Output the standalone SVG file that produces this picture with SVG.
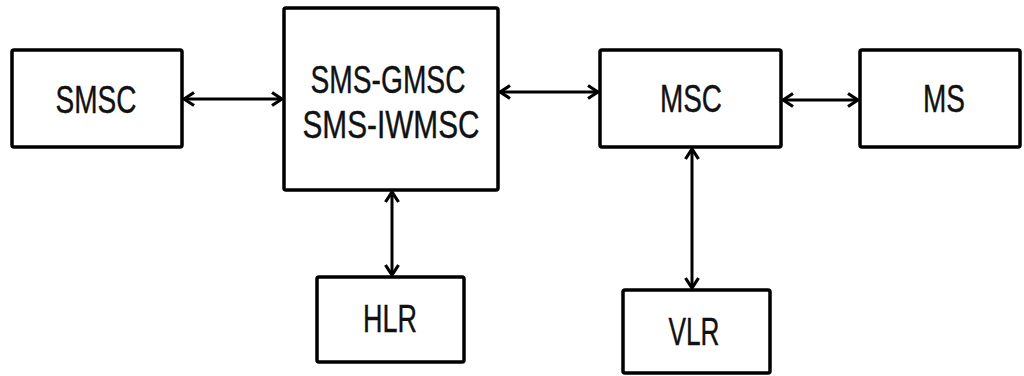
<svg xmlns="http://www.w3.org/2000/svg" width="1024" height="376" viewBox="0 0 1024 376">
<style>
.box{fill:#fff;stroke:#000;stroke-width:3.5}
.t{font-family:"Liberation Sans",Arial,sans-serif;font-size:38px;fill:#111;text-anchor:middle;stroke:#111;stroke-width:0.4}
.c{stroke:#000;stroke-width:3;fill:none}
</style>
<defs>
<marker id="ah" viewBox="0 0 14 16" refX="12" refY="8" markerWidth="14" markerHeight="16" markerUnits="userSpaceOnUse" orient="auto-start-reverse">
<path d="M2,1.5 L12,8 L2,14.5" fill="none" stroke="#000" stroke-width="3.2" stroke-linejoin="miter"/>
</marker>
</defs>
<rect width="1024" height="376" fill="#fff"/>
<g id="connectors">
<line class="c" x1="184" y1="99" x2="282" y2="99" marker-start="url(#ah)" marker-end="url(#ah)"/>
<line class="c" x1="500" y1="92" x2="598" y2="92" marker-start="url(#ah)" marker-end="url(#ah)"/>
<line class="c" x1="783" y1="100" x2="858" y2="100" marker-start="url(#ah)" marker-end="url(#ah)"/>
<line class="c" x1="392" y1="192" x2="392" y2="275" marker-start="url(#ah)" marker-end="url(#ah)"/>
<line class="c" x1="692" y1="149" x2="692" y2="288" marker-start="url(#ah)" marker-end="url(#ah)"/>
</g>
<g id="smsc">
<rect class="box" x="12" y="50" width="170" height="97" rx="2"/>
<text class="t" x="96" y="113" textLength="81" lengthAdjust="spacingAndGlyphs">SMSC</text>
</g>
<g id="sms-gmsc">
<rect class="box" x="284" y="8" width="214" height="182" rx="2"/>
<text class="t" x="388" y="93" textLength="155" lengthAdjust="spacingAndGlyphs">SMS-GMSC</text>
<text class="t" x="391" y="138" textLength="177" lengthAdjust="spacingAndGlyphs">SMS-IWMSC</text>
</g>
<g id="msc">
<rect class="box" x="600" y="50" width="181" height="97" rx="2"/>
<text class="t" x="691" y="112" textLength="62" lengthAdjust="spacingAndGlyphs">MSC</text>
</g>
<g id="ms">
<rect class="box" x="860" y="50" width="160" height="97" rx="2"/>
<text class="t" x="944" y="112" textLength="42" lengthAdjust="spacingAndGlyphs">MS</text>
</g>
<g id="hlr">
<rect class="box" x="317" y="277" width="147" height="85" rx="2"/>
<text class="t" x="390" y="332" textLength="54" lengthAdjust="spacingAndGlyphs">HLR</text>
</g>
<g id="vlr">
<rect class="box" x="623" y="290" width="147" height="83" rx="2"/>
<text class="t" x="694" y="345" textLength="51" lengthAdjust="spacingAndGlyphs">VLR</text>
</g>
</svg>
